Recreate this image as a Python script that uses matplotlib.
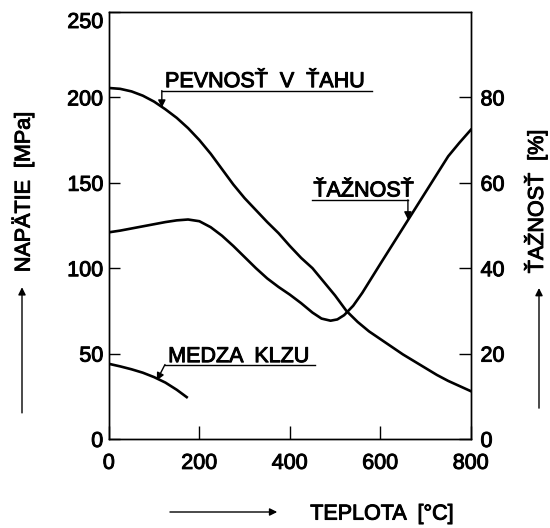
import matplotlib
matplotlib.use("Agg")
import matplotlib.pyplot as plt
import matplotlib.patheffects as pe

plt.rcParams["font.family"] = ["Liberation Sans", "DejaVu Sans"]

# teplota [°C] a hodnoty odčítané z grafu
pevnost_t = [0, 25, 50, 75, 100, 125, 150, 175, 200, 225, 250, 275, 300, 325, 350, 375,
             400, 425, 450, 475, 500, 525, 550, 575, 600, 625, 650, 675, 700, 725, 750, 775, 800]
pevnost_mpa = [205.5, 205, 203.5, 201, 197.5, 193, 188, 182, 175, 167, 158, 149, 141, 134, 127, 120.5,
               113, 106, 100, 92, 84, 75, 68.5, 63, 58.5, 54, 49.5, 45.5, 41.5, 37.5, 34, 31, 28]

taznost_t = [0, 25, 50, 75, 100, 125, 150, 175, 200, 225, 250, 275, 300, 325, 350, 375, 400,
             425, 450, 470, 490, 505, 520, 540, 560, 580, 600, 625, 650, 675, 700, 725, 750, 775, 800]
taznost_pct = [48.4, 48.8, 49.3, 49.8, 50.3, 50.8, 51.2, 51.4, 51.0, 49.6, 47.6, 45.2, 42.6, 40.0, 37.6,
               35.6, 33.8, 31.8, 29.6, 28.2, 27.7, 28.0, 29.0, 31.2, 34.2, 37.6, 41.0, 45.2, 49.4, 53.6,
               57.8, 62.0, 66.2, 69.4, 72.4]

klzu_t = [0, 25, 50, 75, 100, 125, 150, 172]
klzu_mpa = [44, 42.5, 40.8, 38.8, 36.2, 33, 28.8, 24.5]

x_ticks = [0, 200, 400, 600, 800]
left_ticks = [0, 50, 100, 150, 200, 250]
right_ticks = [0, 20, 40, 60, 80]

FS = 15.5
heavy = [pe.withStroke(linewidth=0.7, foreground="black")]

fig = plt.figure(figsize=(5.5, 5.28), dpi=100)
ax = fig.add_axes([0.198, 0.1686, 0.658, 0.8087])
ax2 = ax.twinx()

ax.plot(pevnost_t, pevnost_mpa, color="black", lw=1.9)
ax.plot(klzu_t, klzu_mpa, color="black", lw=1.9)
ax2.plot(taznost_t, taznost_pct, color="black", lw=1.9)

ax.set_xlim(0, 800)
ax.set_ylim(0, 250)
ax2.set_ylim(0, 100)

ax.set_xticks(x_ticks)
ax.set_yticks(left_ticks)
ax2.set_yticks(right_ticks)

ax.tick_params(axis="x", direction="in", length=9.4, width=1, pad=10, labelsize=FS)
ax.tick_params(axis="y", direction="in", length=8, width=1, pad=4, labelsize=FS)
ax2.tick_params(axis="y", direction="in", length=8.6, width=1, pad=7, labelsize=FS)

# 250 sits under the top edge in the reference
ax.get_yticklabels()[-1].set_verticalalignment("top")

for t in ax.get_xticklabels() + ax.get_yticklabels() + ax2.get_yticklabels():
    t.set_path_effects(heavy)

for a in (ax, ax2):
    for s in a.spines.values():
        s.set_linewidth(1)

arrow = dict(arrowstyle="-|>", color="black", lw=1, mutation_scale=11, shrinkA=0, shrinkB=0)


def label(text, tx, ty, ux0, ux1, uy, a_from, a_to):
    ax.text(tx, ty, text, fontsize=FS, ha="left", va="baseline", path_effects=heavy)
    ax.plot([ux0, ux1], [uy, uy], color="black", lw=1, clip_on=False)
    ax.annotate("", xy=a_to, xytext=a_from, arrowprops=arrow)


label("PEVNOSŤ  V  ŤAHU", 124, 206, 117, 581, 204, (117, 204), (117, 194))
label("ŤAŽNOSŤ", 452, 142, 449, 661, 140, (661, 140), (661, 128.5))
label("MEDZA  KLZU", 131, 45, 124, 455, 43.6, (124, 43.6), (106, 34.3))

# popisy osí so šípkami
fig.text(0.042, 0.636, "NAPÄTIE  [MPa]", rotation=90, fontsize=FS, ha="center", va="center",
         path_effects=heavy)
fig.text(0.974, 0.618, "ŤAŽNOSŤ  [%]", rotation=90, fontsize=FS, ha="center", va="center",
         path_effects=heavy)
fig.text(0.694, 0.0265, "TEPLOTA  [°C]", fontsize=FS, ha="center", va="center", path_effects=heavy)

fig_arrow = dict(arrowstyle="-|>", color="black", lw=1, mutation_scale=11, shrinkA=0, shrinkB=0)
fig.add_artist(plt.Annotation("", xy=(0.04, 0.456), xytext=(0.04, 0.218),
                              xycoords="figure fraction", arrowprops=fig_arrow))
fig.add_artist(plt.Annotation("", xy=(0.98, 0.4545), xytext=(0.98, 0.227),
                              xycoords="figure fraction", arrowprops=fig_arrow))
fig.add_artist(plt.Annotation("", xy=(0.504, 0.0303), xytext=(0.309, 0.0303),
                              xycoords="figure fraction", arrowprops=fig_arrow))

fig.savefig("out.png", dpi=100)
